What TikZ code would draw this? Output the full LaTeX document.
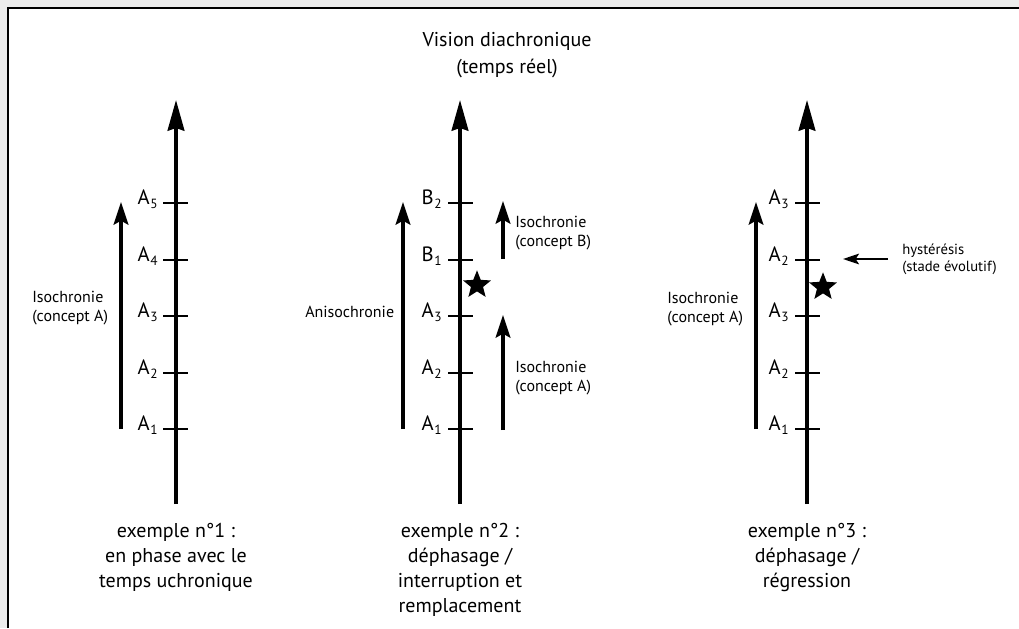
\documentclass[tikz,border=0pt]{standalone}
\usepackage{fontspec}
\setmainfont{PT Sans}
\usetikzlibrary{arrows.meta,positioning,shapes.geometric}

\newcommand{\lowidx}[1]{\kern0.5pt\raisebox{-3.5pt}{\fontsize{10}{10}\selectfont #1}}

\tikzset{
  axisline/.style={line width=2.7pt,-{Stealth[length=23pt,width=12.5pt,inset=2pt]}},
  tickline/.style={line width=1.8pt},
  spanarrow/.style={line width=2.4pt,-{Stealth[length=17pt,width=11pt,inset=3pt]}},
  backarrow/.style={line width=1.6pt,-{Stealth[length=12pt,width=8pt,inset=2.5pt]}},
  ticklbl/.style={anchor=base east,inner sep=0pt,font=\fontsize{15.5}{18}\selectfont},
  note/.style={align=left,anchor=west,inner sep=0pt,font=\fontsize{12}{14.5}\selectfont},
  smallnote/.style={align=left,anchor=west,inner sep=0pt,font=\fontsize{11}{12.75}\selectfont},
  caption/.style={align=center,anchor=north,inner sep=0pt,font=\fontsize{15}{18.75}\selectfont},
  starmark/.style={star,star points=5,star point ratio=2.3,fill,minimum size=22pt,inner sep=0pt}
}

\begin{document}
\begin{tikzpicture}[x=0.75pt,y=-0.75pt]
  \useasboundingbox (0,0) rectangle (1019,628);
  % frame
  \fill[gray!15] (0,0) rectangle (1019,628);
  \fill[white] (8,8) rectangle (1019,628);
  \draw[line width=2pt] (8,628) -- (8,8) -- (1019,8);

  \node[caption,anchor=north,font=\fontsize{15}{20}\selectfont] (title) at (507,32)
    {Vision diachronique\\(temps réel)};

  % exemple 1
  \coordinate (ax1b) at (176,504);
  \coordinate (ax1t) at (176,100);
  \draw[axisline] (ax1b) -- (ax1t);
  \foreach \i/\y in {1/429,2/373,3/316,4/260,5/203} {
    \draw[tickline] (163,\y) -- (188,\y);
    \node[ticklbl] (t1-\i) at (158,\y+1) {A\lowidx{\i}};
  }
  \coordinate (s1b) at (121,429);
  \coordinate (s1t) at (121,202);
  \draw[spanarrow] (s1b) -- (s1t);
  \node[note] (iso1) at (32,308) {Isochronie\\(concept A)};
  \node[caption] (cap1) at (176,523) {exemple n°1 :\\en phase avec le\\temps uchronique};

  % exemple 2
  \coordinate (ax2b) at (460,504);
  \coordinate (ax2t) at (460,100);
  \draw[axisline] (ax2b) -- (ax2t);
  \foreach \i/\y/\t in {1/429/A\lowidx{1},2/373/A\lowidx{2},3/316/A\lowidx{3},4/260/B\lowidx{1},5/203/B\lowidx{2}} {
    \draw[tickline] (448,\y) -- (473,\y);
    \node[ticklbl] (t2-\i) at (442,\y+1) {\t};
  }
  \coordinate (s2b) at (403,429);
  \coordinate (s2t) at (403,202);
  \draw[spanarrow] (s2b) -- (s2t);
  \node[note] (aniso) at (305,312) {Anisochronie};
  \node[starmark] (star2) at (477,285) {};
  \coordinate (r2ab) at (503,430);
  \coordinate (r2at) at (503,315);
  \draw[spanarrow] (r2ab) -- (r2at);
  \coordinate (r2bb) at (503,259);
  \coordinate (r2bt) at (503,201);
  \draw[spanarrow] (r2bb) -- (r2bt);
  \node[note] (isoB) at (515,233) {Isochronie\\(concept B)};
  \node[note] (isoA) at (515,378) {Isochronie\\(concept A)};
  \node[caption] (cap2) at (460,523) {exemple n°2 :\\déphasage /\\interruption et\\remplacement};

  % exemple 3
  \coordinate (ax3b) at (807,504);
  \coordinate (ax3t) at (807,100);
  \draw[axisline] (ax3b) -- (ax3t);
  \foreach \i/\y/\t in {1/429/1,2/373/2,3/316/3,4/260/2,5/203/3} {
    \draw[tickline] (795,\y) -- (820,\y);
    \node[ticklbl] (t3-\i) at (789,\y+1) {A\lowidx{\t}};
  }
  \coordinate (s3b) at (756,429);
  \coordinate (s3t) at (756,202);
  \draw[spanarrow] (s3b) -- (s3t);
  \node[note] (iso3) at (667,309) {Isochronie\\(concept A)};
  \node[starmark] (star3) at (823,287) {};
  \node[smallnote] (hyst) at (902,259) {hystérésis\\(stade évolutif)};
  \coordinate (h3t) at (843,259);
  \draw[backarrow] (hyst.west) ++(-14,0) coordinate (h3b) -- (h3t);
  \node[caption] (cap3) at (807,523) {exemple n°3 :\\déphasage /\\régression};
\end{tikzpicture}
\end{document}
